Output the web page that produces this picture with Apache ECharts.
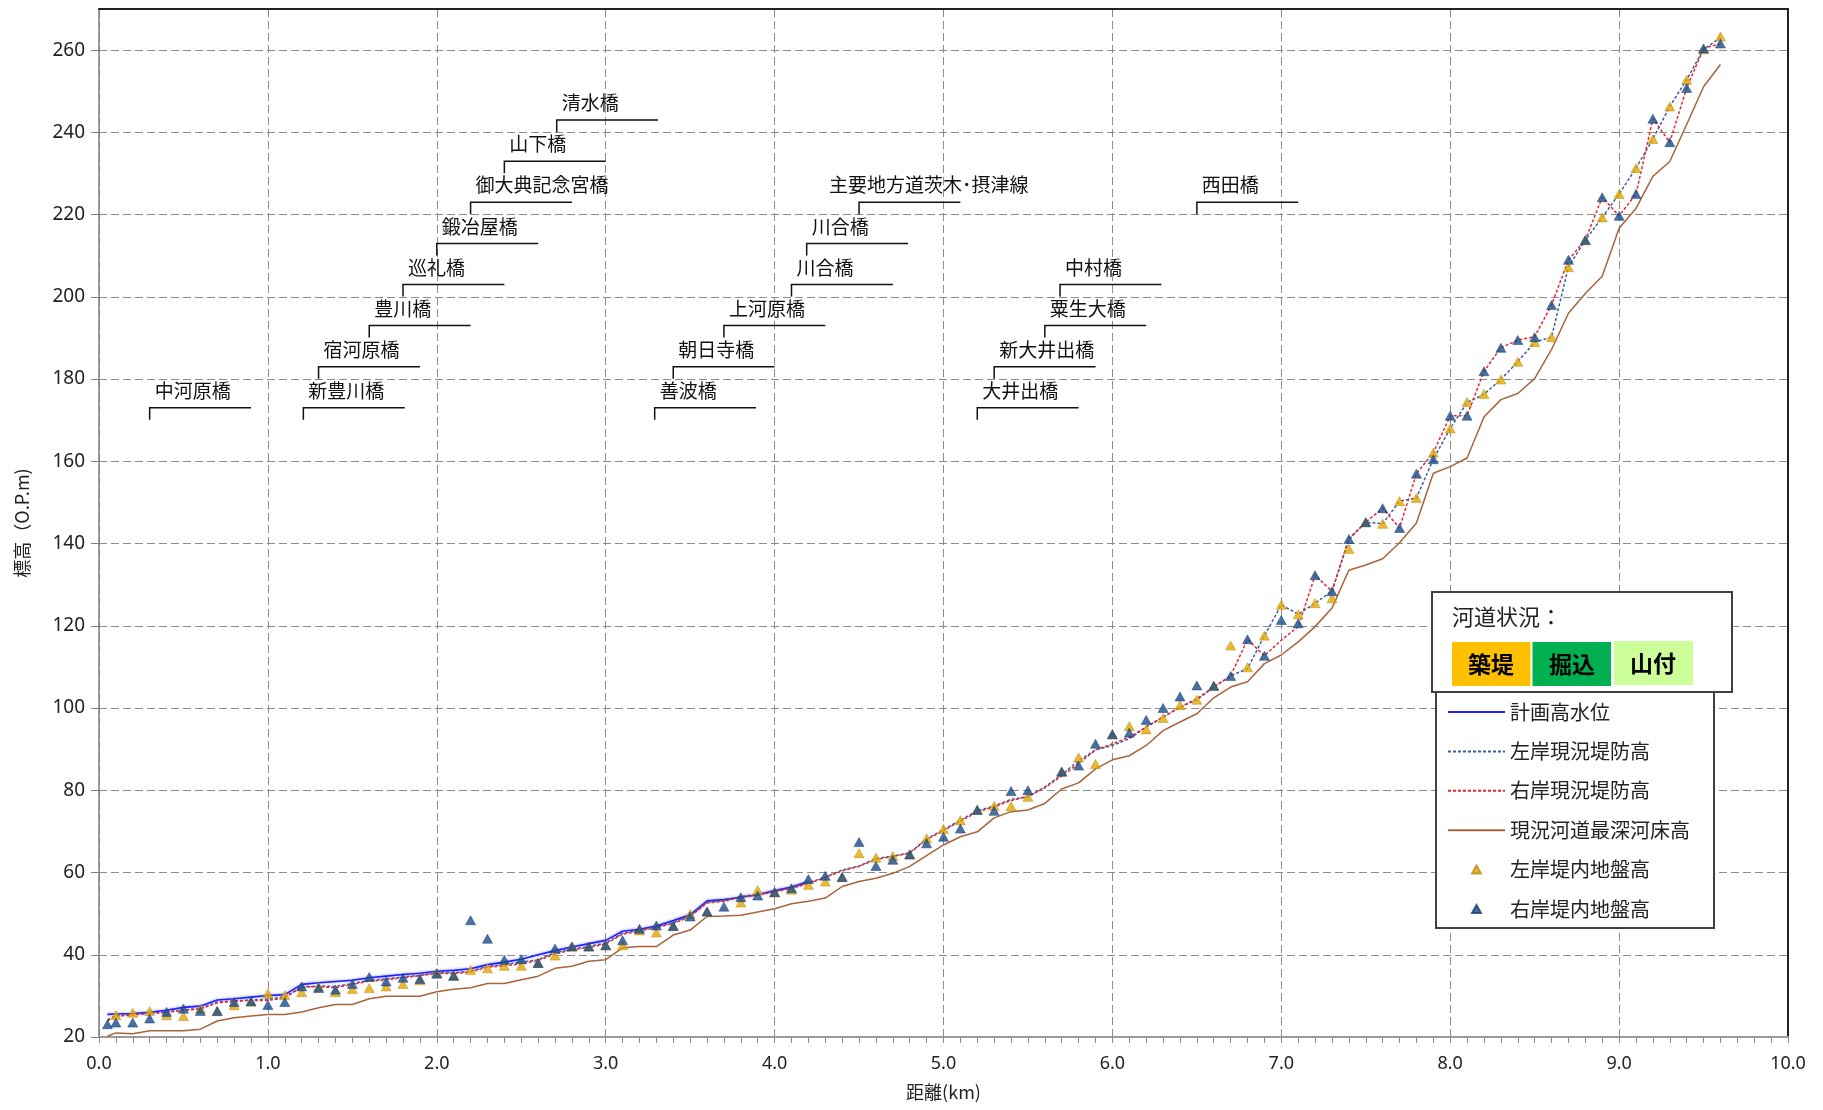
<!DOCTYPE html>
<html><head><meta charset="utf-8">
<script src="https://cdn.jsdelivr.net/npm/echarts@6/dist/echarts.min.js"></script>
<style>html,body{margin:0;padding:0;background:#fff}#c{width:1823px;height:1110px}</style>
</head><body><div id="c"></div>
<script>
// Stations (km)
const dist = [0.05,0.1,0.2,0.3,0.4,0.5,0.6,0.7,0.8,0.9,
1.0,1.1,1.2,1.3,1.4,1.5,1.6,1.7,1.8,1.9,
2.0,2.1,2.2,2.3,2.4,2.5,2.6,2.7,2.8,2.9,
3.0,3.1,3.2,3.3,3.4,3.5,3.6,3.7,3.8,3.9,
4.0,4.1,4.2,4.3,4.4,4.5,4.6,4.7,4.8,4.9,
5.0,5.1,5.2,5.3,5.4,5.5,5.6,5.7,5.8,5.9,
6.0,6.1,6.2,6.3,6.4,6.5,6.6,6.7,6.8,6.9,
7.0,7.1,7.2,7.3,7.4,7.5,7.6,7.7,7.8,7.9,
8.0,8.1,8.2,8.3,8.4,8.5,8.6,8.7,8.8,8.9,
9.0,9.1,9.2,9.3,9.4,9.5,9.6];

// 計画高水位
const hwl = [25.5,25.6,25.7,26.0,26.5,27.2,27.5,29.0,29.3,29.7,
30.1,30.3,32.8,33.2,33.5,33.8,34.4,34.8,35.2,35.5,
36.0,36.2,36.6,37.6,38.2,38.9,40.0,41.0,41.9,42.7,
43.5,45.7,46.2,47.0,48.3,49.7,53.1,53.4,54.0,54.6,
55.6,56.5,57.8,null,null,null,null,null,null,null,
null,null,null,null,null,null,null,null,null,null,
null,null,null,null,null,null,null,null,null,null,
null,null,null,null,null,null,null,null,null,null,
null,null,null,null,null,null,null,null,null,null,
null,null,null,null,null,null,null];

// 左岸現況堤防高
const leftLevee = [24.2,25.2,25.5,25.8,26.1,26.6,26.9,28.5,28.8,29.0,
29.2,29.8,32.0,32.4,32.3,33.0,33.8,34.1,34.6,35.0,
35.6,35.6,36.0,37.2,37.6,38.2,38.8,40.5,41.4,42.0,
42.9,45.2,46.0,46.8,47.8,49.5,52.8,53.2,54.2,54.7,
55.5,56.3,57.5,58.9,60.6,61.6,63.4,64.0,64.8,68.2,
70.4,72.7,75.0,76.2,77.8,78.4,80.8,83.8,87.2,89.8,
90.9,92.5,95.4,97.8,100.2,102.0,105.1,107.8,109.6,117.6,
125.1,122.8,125.5,128.4,141.0,145.2,144.8,150.3,151.1,160.5,
168.0,174.3,176.3,179.9,184.2,189.0,190.2,207.3,213.8,219.3,
225.0,231.3,238.4,246.3,252.8,260.2,263.0];

// 右岸現況堤防高
const rightLevee = [23.9,25.0,25.4,25.7,26.0,26.5,26.8,28.3,28.7,28.9,
28.9,29.5,32.3,32.2,32.0,32.8,33.6,33.9,34.4,34.9,
35.5,35.4,35.8,37.0,37.3,37.8,38.6,40.2,41.2,41.8,
42.6,45.0,45.8,46.6,47.6,49.3,52.6,53.0,54.0,54.5,
55.3,56.2,57.3,58.8,60.4,61.5,63.2,63.9,64.7,68.0,
70.2,72.5,74.7,76.0,77.5,78.5,80.6,83.5,86.5,89.8,
91.3,92.9,95.4,97.8,100.2,102.3,105.1,107.8,116.7,112.7,
116.5,119.8,132.3,128.4,141.2,145.2,148.6,143.8,157.0,162.1,
171.1,171.1,181.9,187.6,189.5,190.3,198.0,209.0,213.8,224.2,
219.7,225.0,243.3,237.6,250.8,260.4,261.6];

// 現況河道最深河床高
const riverbed = [20.2,21.0,20.8,21.5,21.5,21.5,21.9,23.9,24.7,25.1,
25.5,25.5,26.1,27.1,27.9,27.9,29.3,29.9,29.9,29.9,
31.0,31.6,32.0,33.0,33.0,33.9,34.8,36.7,37.2,38.4,
38.8,41.7,42.0,42.0,44.8,46.0,49.3,49.4,49.6,50.4,
51.2,52.4,53.0,53.8,56.6,57.8,58.6,59.8,61.5,64.1,
66.7,68.7,69.9,73.3,74.8,75.2,76.8,80.3,81.8,85.2,
87.4,88.4,90.9,94.5,96.6,98.6,102.5,105.1,106.4,110.8,
112.9,116.1,119.8,124.3,133.5,134.8,136.3,140.2,145.0,157.1,
158.7,160.8,170.8,175.0,176.5,180.1,187.2,196.0,200.8,205.0,
216.7,221.5,229.3,232.9,241.9,251.1,256.5];

// 左岸堤内地盤高
const leftGround = [null,25.3,25.9,26.3,25.3,25.1,26.9,26.3,27.7,28.6,
30.6,30.2,30.9,32.2,30.9,31.7,31.9,32.3,32.9,33.8,
35.6,34.9,36.3,36.7,37.3,37.3,38.0,39.8,42.0,42.0,
42.3,42.3,45.9,45.4,47.0,49.9,50.5,null,52.7,55.7,
55.2,55.8,57.0,57.8,58.9,64.7,63.6,64.0,64.4,68.3,
70.6,72.7,75.3,76.2,76.1,78.4,null,84.6,88.0,86.4,
93.6,95.6,94.8,97.6,100.7,102.0,105.4,115.2,109.9,117.6,
125.1,122.8,125.5,126.7,138.7,145.2,144.8,150.3,151.1,162.1,
168.0,174.4,176.4,179.9,184.2,189.0,190.2,207.2,213.8,219.3,
225.0,231.3,238.4,246.3,252.8,260.2,263.3];

// 右岸堤内地盤高
const rightGround = [23.1,23.5,23.5,24.5,26.1,26.9,26.3,26.3,28.5,28.7,
27.8,28.5,32.3,31.9,31.5,32.9,34.6,33.5,34.4,34.1,
35.4,34.9,48.4,43.9,38.8,38.9,38.0,41.5,42.0,42.0,
42.3,43.5,46.3,47.1,47.0,49.3,50.5,51.7,54.0,54.4,
55.2,56.2,58.4,59.2,58.9,67.4,61.6,63.1,64.4,67.1,
68.7,70.7,75.2,75.0,79.8,80.0,null,84.5,86.0,91.3,
93.6,94.0,97.1,100.0,102.8,105.5,105.4,107.8,116.7,112.7,
121.4,120.6,132.3,128.4,141.1,145.2,148.6,143.8,157.0,160.5,
171.1,171.1,181.9,187.6,189.5,190.2,198.0,209.0,213.8,224.2,
219.7,225.0,243.3,237.6,250.8,260.4,261.6];

// Bridges: name, position (km), label level (O.P.m)
const bridgeNames = ['中河原橋','新豊川橋','宿河原橋','豊川橋','巡礼橋','鍛冶屋橋','御大典記念宮橋','山下橋','清水橋',
  '善波橋','朝日寺橋','上河原橋','川合橋','川合橋','主要地方道茨木･摂津線',
  '大井出橋','新大井出橋','粟生大橋','中村橋','西田橋'];
const bridgeKm = [0.30,1.21,1.30,1.60,1.80,2.00,2.20,2.40,2.71,
  3.29,3.40,3.70,4.10,4.19,4.50,
  5.20,5.30,5.60,5.69,6.50];
const bridgeLevel = [173,173,183,193,203,213,223,233,243,
  173,183,193,203,213,223,
  173,183,193,203,223];

const xTicks = {min:0, max:10, interval:1};
const yTicks = {min:20, max:270, interval:20};

const names = ['計画高水位','左岸現況堤防高','右岸現況堤防高','現況河道最深河床高','左岸堤内地盤高','右岸堤内地盤高'];
const pairs = arr => dist.map((d,i)=>[d, arr[i]]);
const pts = arr => dist.map((d,i)=>[d, arr[i]]).filter(p=>p[1]!=null);

const JP = '"Noto Sans CJK JP", "Noto Sans", sans-serif';
const chart = echarts.init(document.getElementById('c'), null, {renderer:'canvas'});

const lineSeries = (name, arr, color, type, width, z) => ({
  name, type:'line', data: pairs(arr), symbol:'none', showSymbol:false, connectNulls:false,
  lineStyle:{color, width, type}, itemStyle:{color}, z, animation:false
});

const option = {
  backgroundColor:'#fff',
  animation:false,
  textStyle:{fontFamily:JP},
  grid:{left:99, right:35, top:9, bottom:73, containLabel:false},
  xAxis:[{
    type:'value', min:xTicks.min, max:xTicks.max, interval:xTicks.interval,
    name:'距離(km)', nameLocation:'middle', nameGap:46,
    nameTextStyle:{fontSize:18, color:'#222', fontFamily:JP},
    axisLine:{show:true, onZero:false, lineStyle:{color:'#9a9a9a', width:2}},
    axisTick:{show:true, length:6, lineStyle:{color:'#8a8a8a', width:1}},
    minorTick:{show:true, splitNumber:10, length:6, lineStyle:{color:'#8a8a8a', width:1}},
    axisLabel:{fontSize:18, color:'#222', margin:18, formatter:v=>v.toFixed(1), fontFamily:'"Noto Sans", sans-serif'},
    splitLine:{show:true, lineStyle:{color:'#8c8c8c', width:1, type:[8,4]}}
  },{
    type:'value', position:'top', min:xTicks.min, max:xTicks.max,
    axisLine:{show:true, onZero:false, lineStyle:{color:'#222', width:2}},
    axisTick:{show:false}, axisLabel:{show:false}, splitLine:{show:false}
  }],
  yAxis:[{
    type:'value', min:yTicks.min, max:yTicks.max, interval:yTicks.interval,
    name:'標高（O.P.m)', nameLocation:'middle', nameGap:68,
    nameTextStyle:{fontSize:18, color:'#222', fontFamily:JP},
    axisLine:{show:true, onZero:false, lineStyle:{color:'#808080', width:1.5}},
    axisTick:{show:true, length:8, lineStyle:{color:'#808080'}},
    axisLabel:{fontSize:19, color:'#222', margin:14, showMaxLabel:false, fontFamily:'"Noto Sans", sans-serif'},
    splitLine:{show:true, lineStyle:{color:'#8c8c8c', width:1, type:[8,4]}}
  },{
    type:'value', position:'right', min:yTicks.min, max:yTicks.max,
    axisLine:{show:true, onZero:false, lineStyle:{color:'#222', width:2}},
    axisTick:{show:false}, axisLabel:{show:false}, splitLine:{show:false}
  }],
  legend:{
    show:true, orient:'vertical', left:1442, top:696, padding:5,
    itemWidth:57, itemHeight:8, itemGap:17.4, z:10, symbolKeepAspect:true,
    textStyle:{fontSize:20, color:'#222', lineHeight:22, fontFamily:JP},
    data:[
      {name:names[0], itemStyle:{opacity:0}},
      {name:names[1], itemStyle:{opacity:0}},
      {name:names[2], itemStyle:{opacity:0}},
      {name:names[3], itemStyle:{opacity:0}},
      {name:names[4], icon:'path://M5,0L10,9L0,9Z'},
      {name:names[5], icon:'path://M5,0L10,9L0,9Z'}
    ]
  },
  graphic:[
    {type:'rect', z:8, shape:{x:1436, y:692, width:278, height:236}, style:{fill:'#fff', stroke:'#404040', lineWidth:2}},
    {type:'rect', z:9, shape:{x:1432, y:592, width:300, height:100}, style:{fill:'#fff', stroke:'#404040', lineWidth:2}},
    {type:'text', z:9, x:1452, y:617, style:{text:'河道状況：', font:'22px '+JP, fill:'#222', textVerticalAlign:'middle'}},
    {type:'rect', z:9, shape:{x:1452, y:642, width:78.5, height:44}, style:{fill:'#FFC000'}},
    {type:'rect', z:9, shape:{x:1532.5, y:642, width:78.5, height:44}, style:{fill:'#00B050'}},
    {type:'rect', z:9, shape:{x:1614, y:641, width:79, height:44}, style:{fill:'#CCFF99'}},
    {type:'text', z:10, x:1491, y:664, style:{text:'築堤', font:'bold 23px '+JP, fill:'#000', textAlign:'center', textVerticalAlign:'middle'}},
    {type:'text', z:10, x:1572, y:664, style:{text:'掘込', font:'bold 23px '+JP, fill:'#000', textAlign:'center', textVerticalAlign:'middle'}},
    {type:'text', z:10, x:1653, y:663, style:{text:'山付', font:'bold 23px '+JP, fill:'#000', textAlign:'center', textVerticalAlign:'middle'}}
  ],
  series:[
    Object.assign(lineSeries(names[0], hwl, '#1f1fff', 'solid', 1.6, 3), {lineStyle:{color:'#1f1fff', width:1.6, shadowBlur:3, shadowColor:'rgba(60,60,255,0.6)'}}),
    lineSeries(names[1], leftLevee, '#3b5f9f', [3,2], 1.5, 4),
    lineSeries(names[2], rightLevee, '#e8262f', [3,2], 1.5, 5),
    lineSeries(names[3], riverbed, '#a8643a', 'solid', 1.5, 3),
    {name:names[4], type:'scatter', data:pts(leftGround), symbol:'triangle', symbolSize:[10,9],
      itemStyle:{color:'#E3A800', borderColor:'#b88a10', borderWidth:0.6}, z:6},
    {name:names[5], type:'scatter', data:pts(rightGround), symbol:'triangle', symbolSize:[10,9],
      itemStyle:{color:'#1C4C8C', borderColor:'#143a6e', borderWidth:0.6}, z:7},
    {
      type:'custom', name:'bridges', silent:true, z:8, clip:false,
      data: bridgeKm.map((k,i)=>[k, bridgeLevel[i]]),
      encode:{x:0, y:1},
      renderItem:(params, api)=>{
        const i = params.dataIndex;
        const p = api.coord([api.value(0), api.value(1)]);
        const q = api.coord([api.value(0)+0.6, api.value(1)]);
        const name = bridgeNames[i];
        const dx = name.length > 8 ? -30 : 5;
        return {type:'group', children:[
          {type:'polyline', shape:{points:[[p[0], p[1]+12],[p[0], p[1]],[q[0], p[1]]]},
            style:{stroke:'#111', lineWidth:1.5, fill:null}},
          {type:'text', x:p[0]+dx, y:p[1]-17,
            style:{text:name, font:'19px '+JP, fill:'#111', textVerticalAlign:'middle', textAlign:'left'}}
        ]};
      }
    }
  ]
};
chart.setOption(option);
</script>
</body></html>
